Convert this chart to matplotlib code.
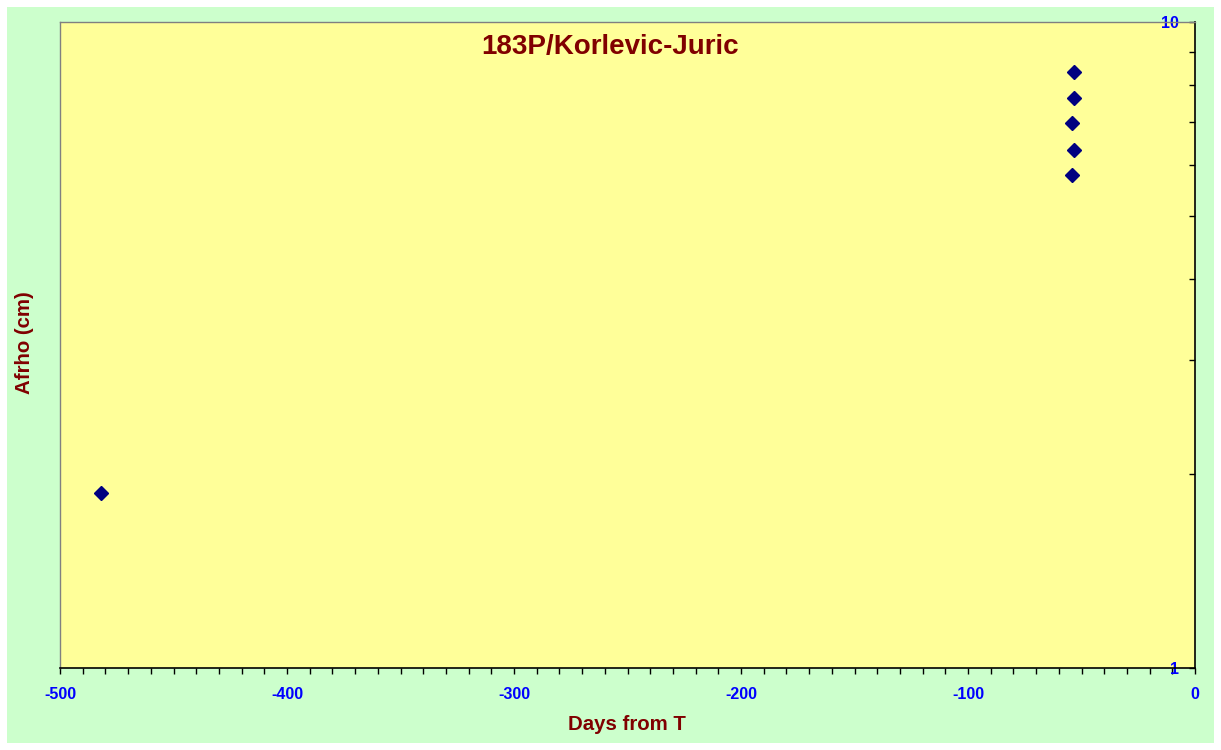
import matplotlib
matplotlib.use("Agg")
import matplotlib.pyplot as plt
from matplotlib.patches import Rectangle
from matplotlib.ticker import MultipleLocator, LogLocator, NullFormatter, FixedLocator, FixedFormatter

plt.rcParams['font.family'] = ['Liberation Sans', 'DejaVu Sans']
plt.rcParams['axes.unicode_minus'] = False

title = "183P/Korlevic-Juric"
days = [-481.8, -53.2, -53.2, -54.1, -53.2, -54.1]
afrho = [1.864, 8.36, 7.62, 6.97, 6.34, 5.79]
x_ticks = [-500, -400, -300, -200, -100, 0]
x_ticklabels = ["-500", "-400", "-300", "-200", "-100", "0"]
y_ticks = [1, 10]
y_ticklabels = ["1", "10"]

W, H = 1221, 750
fig = plt.figure(figsize=(W / 100, H / 100), dpi=100, facecolor='white')
fig.patches.append(Rectangle((7 / W, 7 / H), (1214 - 7) / W, (743 - 7) / H,
                             transform=fig.transFigure, facecolor='#CCFFCC',
                             edgecolor='none', zorder=-10))

ax = fig.add_axes([60 / W, (H - 668) / H, (1195 - 60) / W, (668 - 22) / H])
ax.set_zorder(1)
ax.set_facecolor('#FFFF99')

ax.plot(days, afrho, linestyle='none', marker='D', markersize=7,
        color='#000080', markeredgecolor='#000080')

ax.set_xlim(-500, 0)
ax.set_yscale('log')
ax.set_ylim(1, 10)

ax.xaxis.set_major_locator(FixedLocator(x_ticks))
ax.xaxis.set_major_formatter(FixedFormatter(x_ticklabels))
ax.xaxis.set_minor_locator(MultipleLocator(10))
ax.tick_params(axis='x', which='both', direction='out', length=4, width=1,
               color='black', labelcolor='#0000FF', labelsize=11.5, pad=10)
for lab in ax.get_xticklabels():
    lab.set_fontweight('bold')

ax.yaxis.tick_right()
ax.yaxis.set_major_locator(FixedLocator(y_ticks))
ax.yaxis.set_major_formatter(FixedFormatter(y_ticklabels))
ax.yaxis.set_minor_locator(LogLocator(base=10, subs=range(2, 10)))
ax.yaxis.set_minor_formatter(NullFormatter())
ax.tick_params(axis='y', which='both', direction='in', length=4.5, width=1,
               color='black', labelcolor='#0000FF', labelsize=11.5, pad=-11.5)
for lab in ax.get_yticklabels():
    lab.set_fontweight('bold')
    lab.set_horizontalalignment('right')

for s in ['left', 'top']:
    ax.spines[s].set_color('#808080')
    ax.spines[s].set_linewidth(1)
for s in ['right', 'bottom']:
    ax.spines[s].set_color('black')
    ax.spines[s].set_linewidth(1.2)

fig.text(610 / W, 1 - 47 / H, title, ha='center', va='center',
         fontsize=20, fontweight='bold', color='#800000', zorder=5)
fig.text(627 / W, 1 - 725 / H, "Days from T", ha='center', va='center',
         fontsize=14.7, fontweight='bold', color='#800000')
fig.text(24 / W, 1 - 343 / H, "Afrho (cm)", ha='center', va='center',
         rotation=90, fontsize=14.7, fontweight='bold', color='#800000')

fig.savefig("out.png", dpi=100, facecolor='white')
